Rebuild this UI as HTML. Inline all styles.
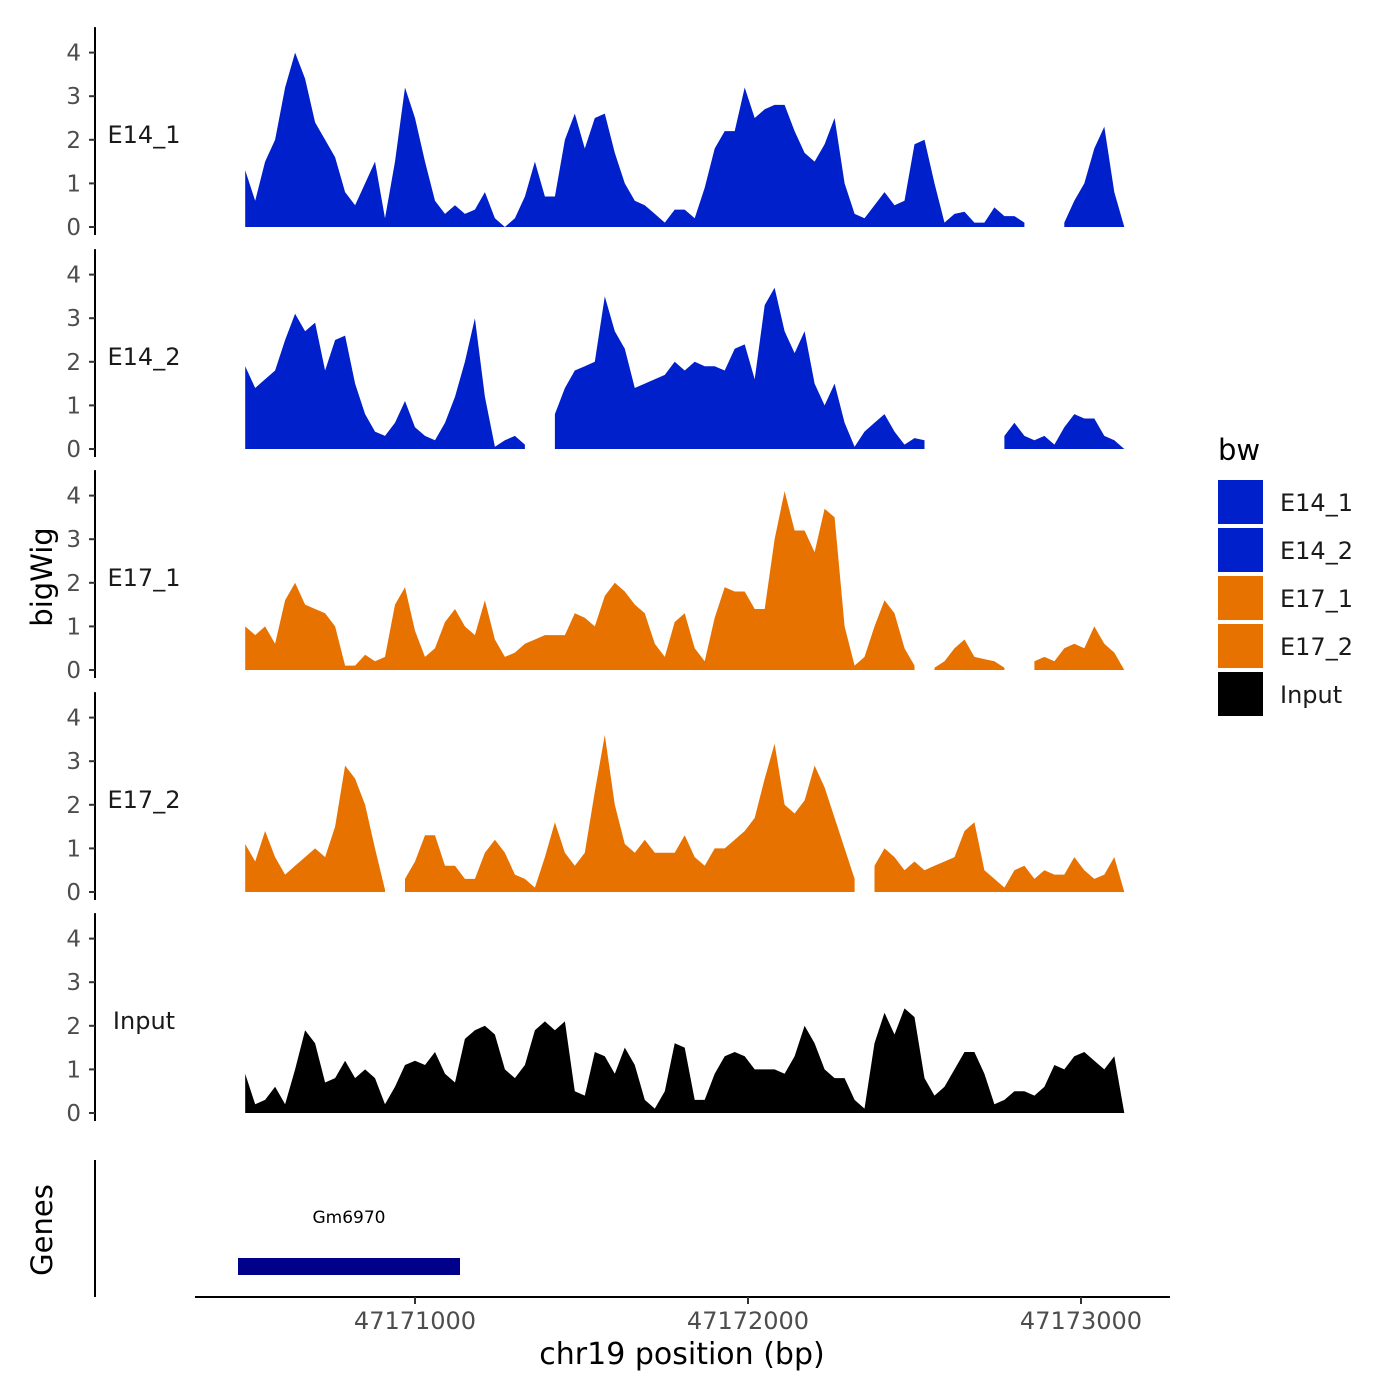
<!DOCTYPE html>
<html><head><meta charset="utf-8"><style>
body{margin:0;background:#fff}
svg{display:block;font-family:"DejaVu Sans","Liberation Sans",sans-serif}
</style></head><body>
<svg id="chart" width="1400" height="1400" viewBox="0 0 1400 1400">
<g id="tracks"></g>
<g id="axes"></g>
<text x="52" y="577" transform="rotate(-90 52 577)" font-size="29" text-anchor="middle">bigWig</text>
<text x="52" y="1230" transform="rotate(-90 52 1230)" font-size="29" text-anchor="middle">Genes</text>
<line x1="95" y1="1160" x2="95" y2="1297" stroke="#000" stroke-width="2"/>
<rect x="238" y="1258" width="222" height="17" fill="#00008b"/>
<text x="349" y="1223" font-size="17" text-anchor="middle">Gm6970</text>
<line x1="195" y1="1297" x2="1170" y2="1297" stroke="#000" stroke-width="2"/>
<g id="xticks"></g>
<text x="682" y="1364" font-size="30" text-anchor="middle">chr19 position (bp)</text>
<g>
<text x="1218" y="460" font-size="29">bw</text>
<g id="legend"></g>
</g>
</svg>
<script>
const trackNames = ["E14_1","E14_2","E17_1","E17_2","Input"];
const trackColors = ["#0020cc","#0020cc","#e87200","#e87200","#000000"];
const startBp = 47170490;
const stepBp = 30;
const e14_1 = [1.3,0.6,1.5,2.0,3.2,4.0,3.4,2.4,2.0,1.6,0.8,0.5,1.0,1.5,0.2,1.5,3.2,2.5,1.5,0.6,0.3,0.5,0.3,0.4,0.8,0.2,0,0.2,0.7,1.5,0.7,0.7,2.0,2.6,1.8,2.5,2.6,1.7,1.0,0.6,0.5,0.3,0.1,0.4,0.4,0.2,0.9,1.8,2.2,2.2,3.2,2.5,2.7,2.8,2.8,2.2,1.7,1.5,1.9,2.5,1.0,0.3,0.2,0.5,0.8,0.5,0.6,1.9,2.0,1.0,0.1,0.3,0.35,0.1,0.1,0.45,0.25,0.25,0.1,null,null,null,0.1,0.6,1.0,1.8,2.3,0.8,0];
const e14_2 = [1.9,1.4,1.6,1.8,2.5,3.1,2.7,2.9,1.8,2.5,2.6,1.5,0.8,0.4,0.3,0.6,1.1,0.5,0.3,0.2,0.6,1.2,2.0,3.0,1.2,0.05,0.2,0.3,0.1,null,null,0.8,1.4,1.8,1.9,2.0,3.5,2.7,2.3,1.4,1.5,1.6,1.7,2.0,1.8,2.0,1.9,1.9,1.8,2.3,2.4,1.6,3.3,3.7,2.7,2.2,2.7,1.5,1.0,1.5,0.6,0.05,0.4,0.6,0.8,0.4,0.1,0.25,0.2,null,null,null,null,null,null,null,0.3,0.6,0.3,0.2,0.3,0.1,0.5,0.8,0.7,0.7,0.3,0.2,0];
const e17_1 = [1.0,0.8,1.0,0.6,1.6,2.0,1.5,1.4,1.3,1.0,0.1,0.1,0.35,0.2,0.3,1.5,1.9,0.9,0.3,0.5,1.1,1.4,1.0,0.8,1.6,0.7,0.3,0.4,0.6,0.7,0.8,0.8,0.8,1.3,1.2,1.0,1.7,2.0,1.8,1.5,1.3,0.6,0.3,1.1,1.3,0.5,0.2,1.2,1.9,1.8,1.8,1.4,1.4,3.0,4.1,3.2,3.2,2.7,3.7,3.5,1.0,0.1,0.3,1.0,1.6,1.3,0.5,0.1,null,0.05,0.2,0.5,0.7,0.3,0.25,0.2,0.05,null,null,0.2,0.3,0.2,0.5,0.6,0.5,1.0,0.6,0.4,0];
const e17_2 = [1.1,0.7,1.4,0.8,0.4,0.6,0.8,1.0,0.8,1.5,2.9,2.6,2.0,1.0,0.05,null,0.3,0.7,1.3,1.3,0.6,0.6,0.3,0.3,0.9,1.2,0.9,0.4,0.3,0.1,0.8,1.6,0.9,0.6,0.9,2.3,3.6,2.0,1.1,0.9,1.2,0.9,0.9,0.9,1.3,0.8,0.6,1.0,1.0,1.2,1.4,1.7,2.6,3.4,2.0,1.8,2.1,2.9,2.4,1.7,1.0,0.3,null,0.6,1.0,0.8,0.5,0.7,0.5,0.6,0.7,0.8,1.4,1.6,0.5,0.3,0.1,0.5,0.6,0.3,0.5,0.4,0.4,0.8,0.5,0.3,0.4,0.8,0];
const input = [0.9,0.2,0.3,0.6,0.2,1.0,1.9,1.6,0.7,0.8,1.2,0.8,1.0,0.8,0.2,0.6,1.1,1.2,1.1,1.4,0.9,0.7,1.7,1.9,2.0,1.8,1.0,0.8,1.1,1.9,2.1,1.9,2.1,0.5,0.4,1.4,1.3,0.9,1.5,1.1,0.3,0.1,0.5,1.6,1.5,0.3,0.3,0.9,1.3,1.4,1.3,1.0,1.0,1.0,0.9,1.3,2.0,1.6,1.0,0.8,0.8,0.3,0.1,1.6,2.3,1.8,2.4,2.2,0.8,0.4,0.6,1.0,1.4,1.4,0.9,0.2,0.3,0.5,0.5,0.4,0.6,1.1,1.0,1.3,1.4,1.2,1.0,1.3,0];
const seriesList = [e14_1,e14_2,e17_1,e17_2,input];
const yTicks = [0,1,2,3,4];
const xTicks = [47171000,47172000,47173000];

const NS="http://www.w3.org/2000/svg";
function mk(tag,attrs,parent){const e=document.createElementNS(NS,tag);for(const k in attrs)e.setAttribute(k,attrs[k]);parent.appendChild(e);return e;}
function xScale(bp){return 415+(bp-47171000)*0.333;}
const panelBase=[227,449,670,892,1113];
const unitPx=43.6;
function yScale(v,p){return panelBase[p]-v*unitPx;}

const tracks=document.getElementById('tracks');
const axes=document.getElementById('axes');
seriesList.forEach((data,p)=>{
  const g=mk('g',{},tracks);
  
  
  let seg=[];
  const flush=()=>{
    if(seg.length<2){seg=[];return;}
    const x0=seg[0][0], x1=seg[seg.length-1][0];
    let d='M'+(x0).toFixed(1)+','+yScale(0,p);
    seg.forEach(pt=>{d+='L'+pt[0].toFixed(1)+','+pt[1].toFixed(1);});
    d+='L'+(x1).toFixed(1)+','+yScale(0,p)+'Z';
    const path=mk('path',{d:d,fill:trackColors[p]},g);
    
    
    seg=[];
  };
  data.forEach((v,i)=>{
    if(v===null){flush();return;}
    seg.push([xScale(startBp+stepBp*i),yScale(v,p)]);
  });
  flush();
  const top=yScale(4.4,p)-8, bot=panelBase[p]+8;
  const al=mk('line',{x1:95,y1:top,x2:95,y2:bot,stroke:'#000','stroke-width':2},axes);
  
  
  yTicks.forEach(t=>{
    const y=yScale(t,p);
    const tl=mk('line',{x1:89,y1:y,x2:95,y2:y,stroke:'#333','stroke-width':2},axes);
    
    
    const tx=mk('text',{x:81,y:y+8,'font-size':23,'text-anchor':'end',fill:'#4d4d4d'},axes);
    
    
    tx.textContent=t;
  });
  const lb=mk('text',{x:144,y:yScale(2,p)+3,'font-size':24,'text-anchor':'middle',fill:'#1a1a1a'},axes);
  
  
  lb.textContent=trackNames[p];
});
const xt=document.getElementById('xticks');
xTicks.forEach(t=>{
  const x=xScale(t);
  const l=mk('line',{x1:x,y1:1297,x2:x,y2:1304,stroke:'#333','stroke-width':2},xt);
  
  
  const tx=mk('text',{x:x,y:1329,'font-size':24,'text-anchor':'middle',fill:'#4d4d4d'},xt);
  
  
  tx.textContent=t;
});
const lg=document.getElementById('legend');
trackNames.forEach((n,i)=>{
  const y=480+48*i;
  const r=mk('rect',{x:1218,y:y,width:45,height:44,fill:trackColors[i]},lg);
  
  
  const t=mk('text',{x:1280,y:y+31,'font-size':24,fill:'#1a1a1a'},lg);
  
  
  t.textContent=n;
});
</script>
</body></html>
